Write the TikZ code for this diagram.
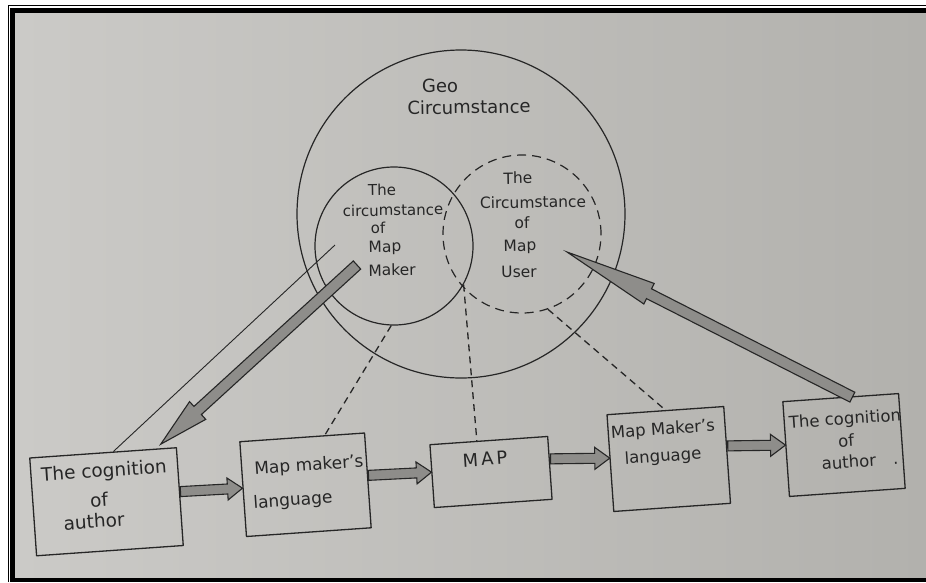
\documentclass[tikz,border=0pt]{standalone}
\usepackage{fontspec}
\setmainfont{DejaVu Sans}
\usetikzlibrary{calc}
\definecolor{ink}{HTML}{262626}
\definecolor{paperL}{HTML}{CBCAC7}
\definecolor{paperR}{HTML}{B2B1AD}
\definecolor{arrowfill}{HTML}{8E8D8A}
\newcommand\fatarr[5]{%
  \coordinate (fatH) at ($(#2)!#5!(#1)$);
  \filldraw[fatstyle] ($(#1)!#3!90:(#2)$) -- ($(fatH)!#3!90:(#2)$) -- ($(fatH)!#4!90:(#2)$) -- (#2)
    -- ($(fatH)!#4!-90:(#2)$) -- ($(fatH)!#3!-90:(#2)$) -- ($(#1)!#3!-90:(#2)$) -- cycle;}
\begin{document}
\begin{tikzpicture}[x=1pt,y=-1pt,line join=round,
  fatstyle/.style={fill=arrowfill, draw=ink, line width=1.1pt, line join=miter},
  circ/.style={circle, draw=ink, line width=1.2pt, inner sep=0pt, minimum size=#1},
  boxst/.style={draw=ink, line width=1.3pt, rotate=4, inner sep=0pt},
  dashln/.style={draw=ink, line width=1.3pt, dash pattern=on 7pt off 5pt},
  lbl/.style={inner sep=0pt, text=ink, rotate=4, font=\fontsize{#1pt}{#1pt}\selectfont},
  clbl/.style={inner sep=0pt, text=ink, rotate=1, font=\fontsize{#1pt}{#1pt}\selectfont}]
\useasboundingbox (0,0) rectangle (926,582);
% page, frame, paper
\fill[white] (0,0) rectangle (926,582);
\draw[black, line width=1.3pt] (8.5,582) -- (8.5,5.8) -- (926,5.8);
\fill[black] (10,8) rectangle (926,582);
\shade[left color=paperL, right color=paperR] (15,13) rectangle (926,577);
% circles
\node[circ=328pt] (cG) at (461,214) {};
\node[circ=158pt] (cL) at (394,246) {};
\node[circ=158pt, dash pattern=on 9pt off 6pt] (cU) at (522,234) {};
% boxes
\node[boxst, minimum width=147pt, minimum height=98pt] (b1) at (106.5,501.75) {};
\node[boxst, minimum width=125pt, minimum height=95pt] (b2) at (305.5,484.75) {};
\node[boxst, minimum width=118pt, minimum height=63pt] (b3) at (491,472) {};
\node[boxst, minimum width=117pt, minimum height=97pt] (b4) at (668.75,459) {};
\node[boxst, minimum width=116pt, minimum height=95pt] (b5) at (844,445) {};
% dashed links
\draw[dashln] (cL.268) -- ($(b2.north west)!0.68!(b2.north east)$);
\draw[dashln] (cL.-29) -- ($(b3.north west)!0.4!(b3.north east)$);
\draw[dashln] (cU.-71) -- (b4.north);
% thin line
\coordinate (thS) at (335,245);
\draw[ink, line width=0.9pt] (thS) -- ($(b1.north west)!0.57!(b1.north east)$);
% horizontal fat arrows
\coordinate (h12s) at ($(b1.east)+(0,-5)$);
\coordinate (h12e) at ($(b2.west)+(0,-1)$);
\coordinate (h23s) at ($(b2.east)+(0,-5)$);
\coordinate (h23e) at ($(b3.west)+(0,-4)$);
\coordinate (h34s) at ($(b3.east)+(0,-9)$);
\coordinate (h34e) at ($(b4.west)+(0,-5)$);
\coordinate (h45s) at ($(b4.east)+(0,-9)$);
\coordinate (h45e) at ($(b5.west)+(0,-4)$);
\fatarr{h12s}{h12e}{5pt}{11pt}{15pt}
\fatarr{h23s}{h23e}{5pt}{11pt}{15pt}
\fatarr{h34s}{h34e}{5pt}{11pt}{15pt}
\fatarr{h45s}{h45e}{5pt}{11pt}{15pt}
% diagonal fat arrows
\coordinate (mkT) at (357,265);
\coordinate (aAe) at ($(b1.north west)!0.89!(b1.north east)+(0,-4)$);
\fatarr{mkT}{aAe}{5.5pt}{12pt}{50pt}
\coordinate (bBs) at ($(b5.north west)!0.6!(b5.north east)+(0,1)$);
\coordinate (usT) at (567,252);
\fatarr{bBs}{usT}{5.5pt}{11.5pt}{92pt}
% texts in circles
\node[clbl=18] (gA) at (440,86) {Geo};
\node[clbl=18] (gB) at (469,107) {Circumstance};
\node[clbl=15] (lA) at (382,190) {The};
\node[clbl=15] (lB) at (393,210) {circumstance};
\node[clbl=15] (lC) at (378,228) {of};
\node[clbl=15.5] (lD) at (385,248) {Map};
\node[clbl=15.5] (lE) at (392,270) {Maker};
\node[clbl=15.5] (uA) at (518,178) {The};
\node[clbl=15.5] (uB) at (533,202) {Circumstance};
\node[clbl=15.5] (uC) at (522,223) {of};
\node[clbl=15.5] (uD) at (520,247) {Map};
\node[clbl=15.5] (uE) at (519,272) {User};
% texts in boxes
\node[lbl=18.5] (pA) at (104,472) {The cognition};
\node[lbl=18.5] (pB) at (99,500) {of};
\node[lbl=18.5] (pC) at (94,521) {author};
\node[lbl=17] (qA) at (309,466) {Map maker's};
\node[lbl=17] (qB) at (293,501) {language};
\node[lbl=18] (rA) at (485,459) {M\,A\,P};
\node[lbl=16.5] (sA) at (663,430) {Map Maker's};
\node[lbl=16.5] (sB) at (663,457) {language};
\node[lbl=16.5] (vA) at (845,420) {The cognition};
\node[lbl=16.5] (vB) at (846,441) {of};
\node[lbl=16.5] (vC) at (860,461) {author\hspace{17pt}.};
\end{tikzpicture}
\end{document}
